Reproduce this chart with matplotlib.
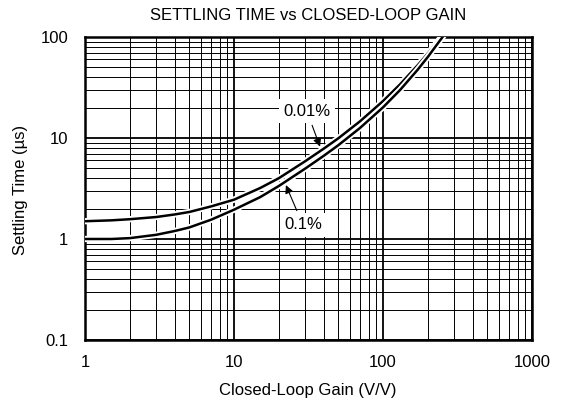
import matplotlib
matplotlib.use("Agg")
import matplotlib.pyplot as plt
import matplotlib.patheffects as pe
from matplotlib.ticker import LogLocator, NullFormatter

plt.rcParams['font.family'] = ['Liberation Sans', 'DejaVu Sans']

# Data
gain_001 = [1, 1.5, 2, 3, 4, 5, 7, 10, 15, 20, 30, 40, 50, 70, 100, 130, 170, 200, 240, 260]
time_001 = [1.5, 1.53, 1.57, 1.65, 1.75, 1.85, 2.1, 2.45, 3.2, 4.0, 5.88, 7.84, 9.9, 14.6, 23.2,
            33.9, 52.1, 68.7, 95.4, 110.7]

gain_01 = [1, 1.5, 2, 3, 4, 5, 7, 10, 15, 20, 30, 40, 50, 70, 100, 130, 170, 200, 250, 270]
time_01 = [1.0, 1.0, 1.02, 1.1, 1.2, 1.3, 1.55, 1.95, 2.6, 3.35, 4.97, 6.66, 8.46, 12.55, 20.1,
           29.8, 47.0, 63.5, 99.2, 116]

x_ticks = [1, 10, 100, 1000]
x_labels = ["1", "10", "100", "1000"]
y_ticks = [0.1, 1, 10, 100]
y_labels = ["0.1", "1", "10", "100"]

title = "SETTLING TIME vs CLOSED-LOOP GAIN"
xlabel = "Closed-Loop Gain (V/V)"
ylabel = "Settling Time (µs)"

fig = plt.figure(figsize=(5.62, 4.05), dpi=100)
ax = fig.add_axes([85/562, 1-340/405, (532-85)/562, (340-37)/405])
ax.set_xscale('log')
ax.set_yscale('log')
ax.set_xlim(1, 1000)
ax.set_ylim(0.1, 100)

ax.xaxis.set_minor_locator(LogLocator(base=10, subs=range(2, 10)))
ax.yaxis.set_minor_locator(LogLocator(base=10, subs=range(2, 10)))
ax.xaxis.set_minor_formatter(NullFormatter())
ax.yaxis.set_minor_formatter(NullFormatter())
ax.set_xticks(x_ticks)
ax.set_xticklabels(x_labels)
ax.set_yticks(y_ticks)
ax.set_yticklabels(y_labels)

ax.grid(which='major', color='black', lw=1.3)
ax.grid(which='minor', color='black', lw=0.7)
ax.set_axisbelow(True)
ax.tick_params(which='both', length=0)
ax.tick_params(axis='x', pad=11, labelsize=12)
ax.tick_params(axis='y', pad=12, labelsize=12)
for s in ax.spines.values():
    s.set_linewidth(1.8)

halo = [pe.Stroke(linewidth=4.5, foreground='white'), pe.Normal()]
ax.plot(gain_001, time_001, color='black', lw=1.8, path_effects=halo, zorder=3)
ax.plot(gain_01, time_01, color='black', lw=1.8, path_effects=halo, zorder=3)

box = dict(boxstyle='square,pad=0.25', fc='white', ec='none')
ax.annotate("0.01%", xy=(37.8, 8.2), xytext=(30.8, 18.5), ha='center', va='center',
            fontsize=12, bbox=box, zorder=5,
            arrowprops=dict(arrowstyle='-|>', color='black', lw=0.8, mutation_scale=12,
                            shrinkA=2, shrinkB=0))
ax.annotate("0.1%", xy=(22.3, 3.42), xytext=(29.0, 1.38), ha='center', va='center',
            fontsize=12, bbox=box, zorder=5,
            arrowprops=dict(arrowstyle='-|>', color='black', lw=0.8, mutation_scale=12,
                            shrinkA=2, shrinkB=0))

fig.text(308/562, 1-16/405, title, ha='center', va='center', fontsize=12)
fig.text(308/562, 1-390/405, xlabel, ha='center', va='center', fontsize=12)
fig.text(20/562, 1-190/405, ylabel, ha='center', va='center', fontsize=12, rotation=90)

fig.savefig("out.png", dpi=100)
